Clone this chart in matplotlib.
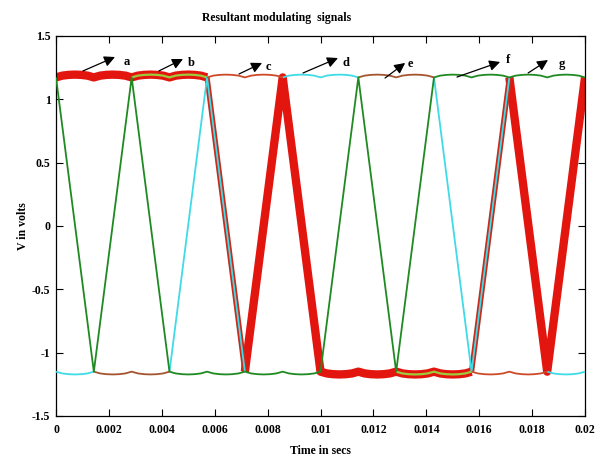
import numpy as np
import matplotlib
matplotlib.use("Agg")
import matplotlib.pyplot as plt

# switching instants (s)
t_nodes = [0, 0.00143, 0.00286, 0.00429, 0.00571, 0.00714, 0.00857,
           0.01, 0.01143, 0.01286, 0.01429, 0.01571, 0.01714, 0.01857, 0.02]

top_level = 1.195
bot_level = -1.172
# small ripple on the flat parts, sampled across one interval
ripple_frac = [0, 1/6, 2/6, 3/6, 4/6, 5/6, 1]
ripple_val = [-0.022, -0.008, -0.002, 0.0, -0.002, -0.008, -0.022]

# each piece: list of (node index, +1 top / -1 bottom)
thick_red = [[(0, 1), (4, 1)],
             [(5, -1), (6, 1), (7, -1), (11, -1)],
             [(12, 1), (13, -1), (14, 1)]]
mid_red = [[(4, 1), (5, -1)], [(11, -1), (12, 1)]]
yellow_green = [[(2, 1), (4, 1)], [(9, -1), (11, -1)]]
cyan = [[(0, -1), (1, -1)], [(3, -1), (4, 1), (5, -1)], [(6, 1), (8, 1)],
        [(10, 1), (11, -1), (12, 1)], [(13, -1), (14, -1)]]
brown = [[(1, -1), (3, -1)], [(8, 1), (10, 1)]]
thin_red = [[(4, 1), (6, 1)], [(11, -1), (13, -1)]]
green = [[(0, 1), (1, -1), (2, 1), (3, -1), (7, -1), (8, 1), (9, -1), (10, 1), (14, 1)]]

labels = ["a", "b", "c", "d", "e", "f", "g"]
arrow_tail = [(0.00102, 1.224), (0.00389, 1.224), (0.00692, 1.20), (0.00934, 1.208),
              (0.01244, 1.168), (0.01516, 1.176), (0.01785, 1.208)]
arrow_tip = [(0.00223, 1.334), (0.0048, 1.318), (0.00779, 1.287), (0.01066, 1.326),
             (0.0132, 1.287), (0.01679, 1.295), (0.0186, 1.31)]
label_pos = [(0.00257, 1.295), (0.00499, 1.287), (0.00794, 1.255), (0.01085, 1.287),
             (0.01331, 1.279), (0.01701, 1.31), (0.01902, 1.279)]


def level(s, r):
    return top_level + r if s > 0 else bot_level - r


def build(piece):
    xs, ys = [], []
    for (i, s), (j, s2) in zip(piece[:-1], piece[1:]):
        if s == s2:
            for k in range(i, j):
                for f, r in zip(ripple_frac, ripple_val):
                    xs.append(t_nodes[k] + f * (t_nodes[k + 1] - t_nodes[k]))
                    ys.append(level(s, r))
        else:
            xs += [t_nodes[i], t_nodes[j]]
            ys += [level(s, ripple_val[0]), level(s2, ripple_val[0])]
    return xs, ys


def draw(ax, pieces, color, lw, z):
    for p in pieces:
        x, y = build(p)
        ax.plot(x, y, color=color, lw=lw, zorder=z, solid_capstyle="butt",
                solid_joinstyle="round")


plt.rcParams["font.family"] = ["Liberation Serif", "DejaVu Serif"]
plt.rcParams["font.weight"] = "bold"

fig = plt.figure(figsize=(6.01, 4.59), dpi=100)
ax = fig.add_axes([0.0932, 0.0937, 0.8802, 0.8279])

draw(ax, thick_red, "#e3160f", 6.0, 2)
draw(ax, mid_red, "#c92a1c", 3.8, 3)
draw(ax, yellow_green, "#9ccc3a", 1.6, 4)
draw(ax, cyan, "#3fdbe6", 1.3, 4)
draw(ax, brown, "#a4552f", 1.3, 4)
draw(ax, thin_red, "#cc4a28", 1.3, 4)
draw(ax, green, "#1f8a22", 1.3, 5)

for lab, tail, tip, pos in zip(labels, arrow_tail, arrow_tip, label_pos):
    ax.annotate("", xy=tip, xytext=tail,
                arrowprops=dict(arrowstyle="-|>", color="k", lw=0.9,
                                mutation_scale=16, shrinkA=0, shrinkB=0),
                zorder=6)
    ax.text(pos[0], pos[1], lab, fontsize=9, fontweight="bold",
            ha="left", va="center", zorder=6)

ax.set_xlim(0, 0.02)
ax.set_ylim(-1.5, 1.5)
ax.set_xticks(np.arange(0, 0.0201, 0.002))
ax.set_xticklabels(["0", "0.002", "0.004", "0.006", "0.008", "0.01",
                    "0.012", "0.014", "0.016", "0.018", "0.02"])
ax.set_yticks([-1.5, -1, -0.5, 0, 0.5, 1, 1.5])
ax.set_yticklabels(["-1.5", "-1", "-0.5", "0", "0.5", "1", "1.5"])
ax.tick_params(direction="in", top=True, right=True, length=5, width=0.8,
               labelsize=8.5)
ax.tick_params(axis="x", pad=6)
ax.tick_params(axis="y", pad=4)
for sp in ax.spines.values():
    sp.set_linewidth(0.9)

# title sits left of centre in the original
fig.text(277 / 601, 1 - 18 / 459, "Resultant modulating  signals", fontsize=8.5,
         fontweight="bold", ha="center", va="center")
ax.set_xlabel("Time in secs", fontsize=8.5, fontweight="bold", labelpad=6)
ax.set_ylabel("V in volts", fontsize=8.5, fontweight="bold", labelpad=2)

fig.savefig("out.png", dpi=100)
